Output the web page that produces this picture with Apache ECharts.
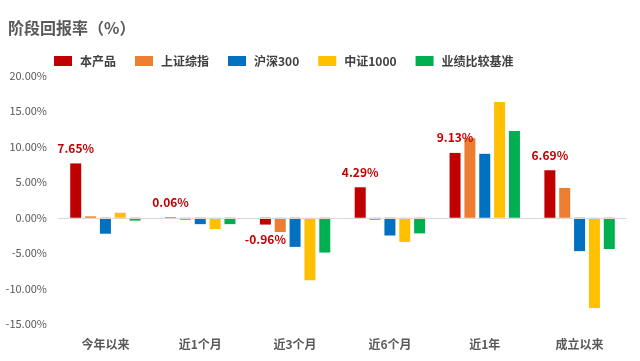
<!DOCTYPE html>
<html><head><meta charset="utf-8">
<script src="https://cdn.jsdelivr.net/npm/echarts@6/dist/echarts.min.js"></script>
<style>html,body{margin:0;padding:0;background:#fff}#c{width:640px;height:361px}</style>
</head><body><div id="c"></div>
<script>
const categories = ['今年以来','近1个月','近3个月','近6个月','近1年','成立以来'];
const seriesNames = ['本产品','上证综指','沪深300','中证1000','业绩比较基准'];
const product = [7.65, 0.06, -0.96, 4.29, 9.13, 6.69];
const shIndex = [0.2, -0.3, -2.0, -0.3, 11.2, 4.2];
const hs300 = [-2.25, -0.9, -4.1, -2.5, 9.0, -4.7];
const zz1000 = [0.7, -1.6, -8.8, -3.4, 16.3, -12.7];
const benchmark = [-0.4, -0.9, -4.9, -2.2, 12.2, -4.4];
const yTicks = {min: -15, max: 20, interval: 5};
const colors = ['#C00000','#ED7D31','#0070C0','#FFC000','#00B050'];
const FONT = '"Noto Sans CJK SC", "Noto Sans", sans-serif';

const allData = [product, shIndex, hs300, zz1000, benchmark];
const series = allData.map((d, i) => {
  const s = {
    name: seriesNames[i], type: 'bar', barWidth: 11, barGap: '35%',
    itemStyle: {color: colors[i]},
    data: d.map(v => {
      if (i !== 0) return v;
      return {value: v, label: {show: true, position: v >= 0 ? 'top' : 'bottom', distance: 9,
        formatter: p => p.value.toFixed(2) + '%', color: '#C00000', fontWeight: 'bold', fontSize: 12, fontFamily: FONT}};
    })
  };
  if (i === 0) {
    s.markLine = {silent: true, symbol: 'none', label: {show: false},
      lineStyle: {color: '#D9D9D9', type: 'solid', width: 1}, data: [{yAxis: 0}]};
  }
  return s;
});

const chart = echarts.init(document.getElementById('c'), null, {renderer: 'canvas'});
chart.setOption({
  animation: false,
  color: colors,
  title: {text: '阶段回报率（%）', left: 3, top: 15,
    textStyle: {fontSize: 16, fontWeight: 'bold', color: '#595959', fontFamily: FONT}},
  legend: {data: seriesNames, left: 49, top: 50, itemWidth: 18, itemHeight: 10, itemGap: 19,
    icon: 'rect',
    textStyle: {fontSize: 12, fontWeight: 'bold', color: '#404040', fontFamily: FONT, padding: [0,0,0,3]}},
  grid: {left: 58, right: 13, top: 75.7, bottom: 36.7, containLabel: false},
  xAxis: {type: 'category', data: categories,
    axisLine: {show: false, onZero: false}, axisTick: {show: false},
    axisLabel: {margin: 14, fontSize: 12, fontWeight: 'bold', color: '#595959', fontFamily: FONT}},
  yAxis: {type: 'value', min: yTicks.min, max: yTicks.max, interval: yTicks.interval,
    splitLine: {show: false}, axisLine: {show: false}, axisTick: {show: false},
    axisLabel: {margin: 11, fontSize: 11, color: '#595959', fontFamily: FONT,
      formatter: v => v.toFixed(2) + '%'}},
  series: series
});
</script></body></html>
